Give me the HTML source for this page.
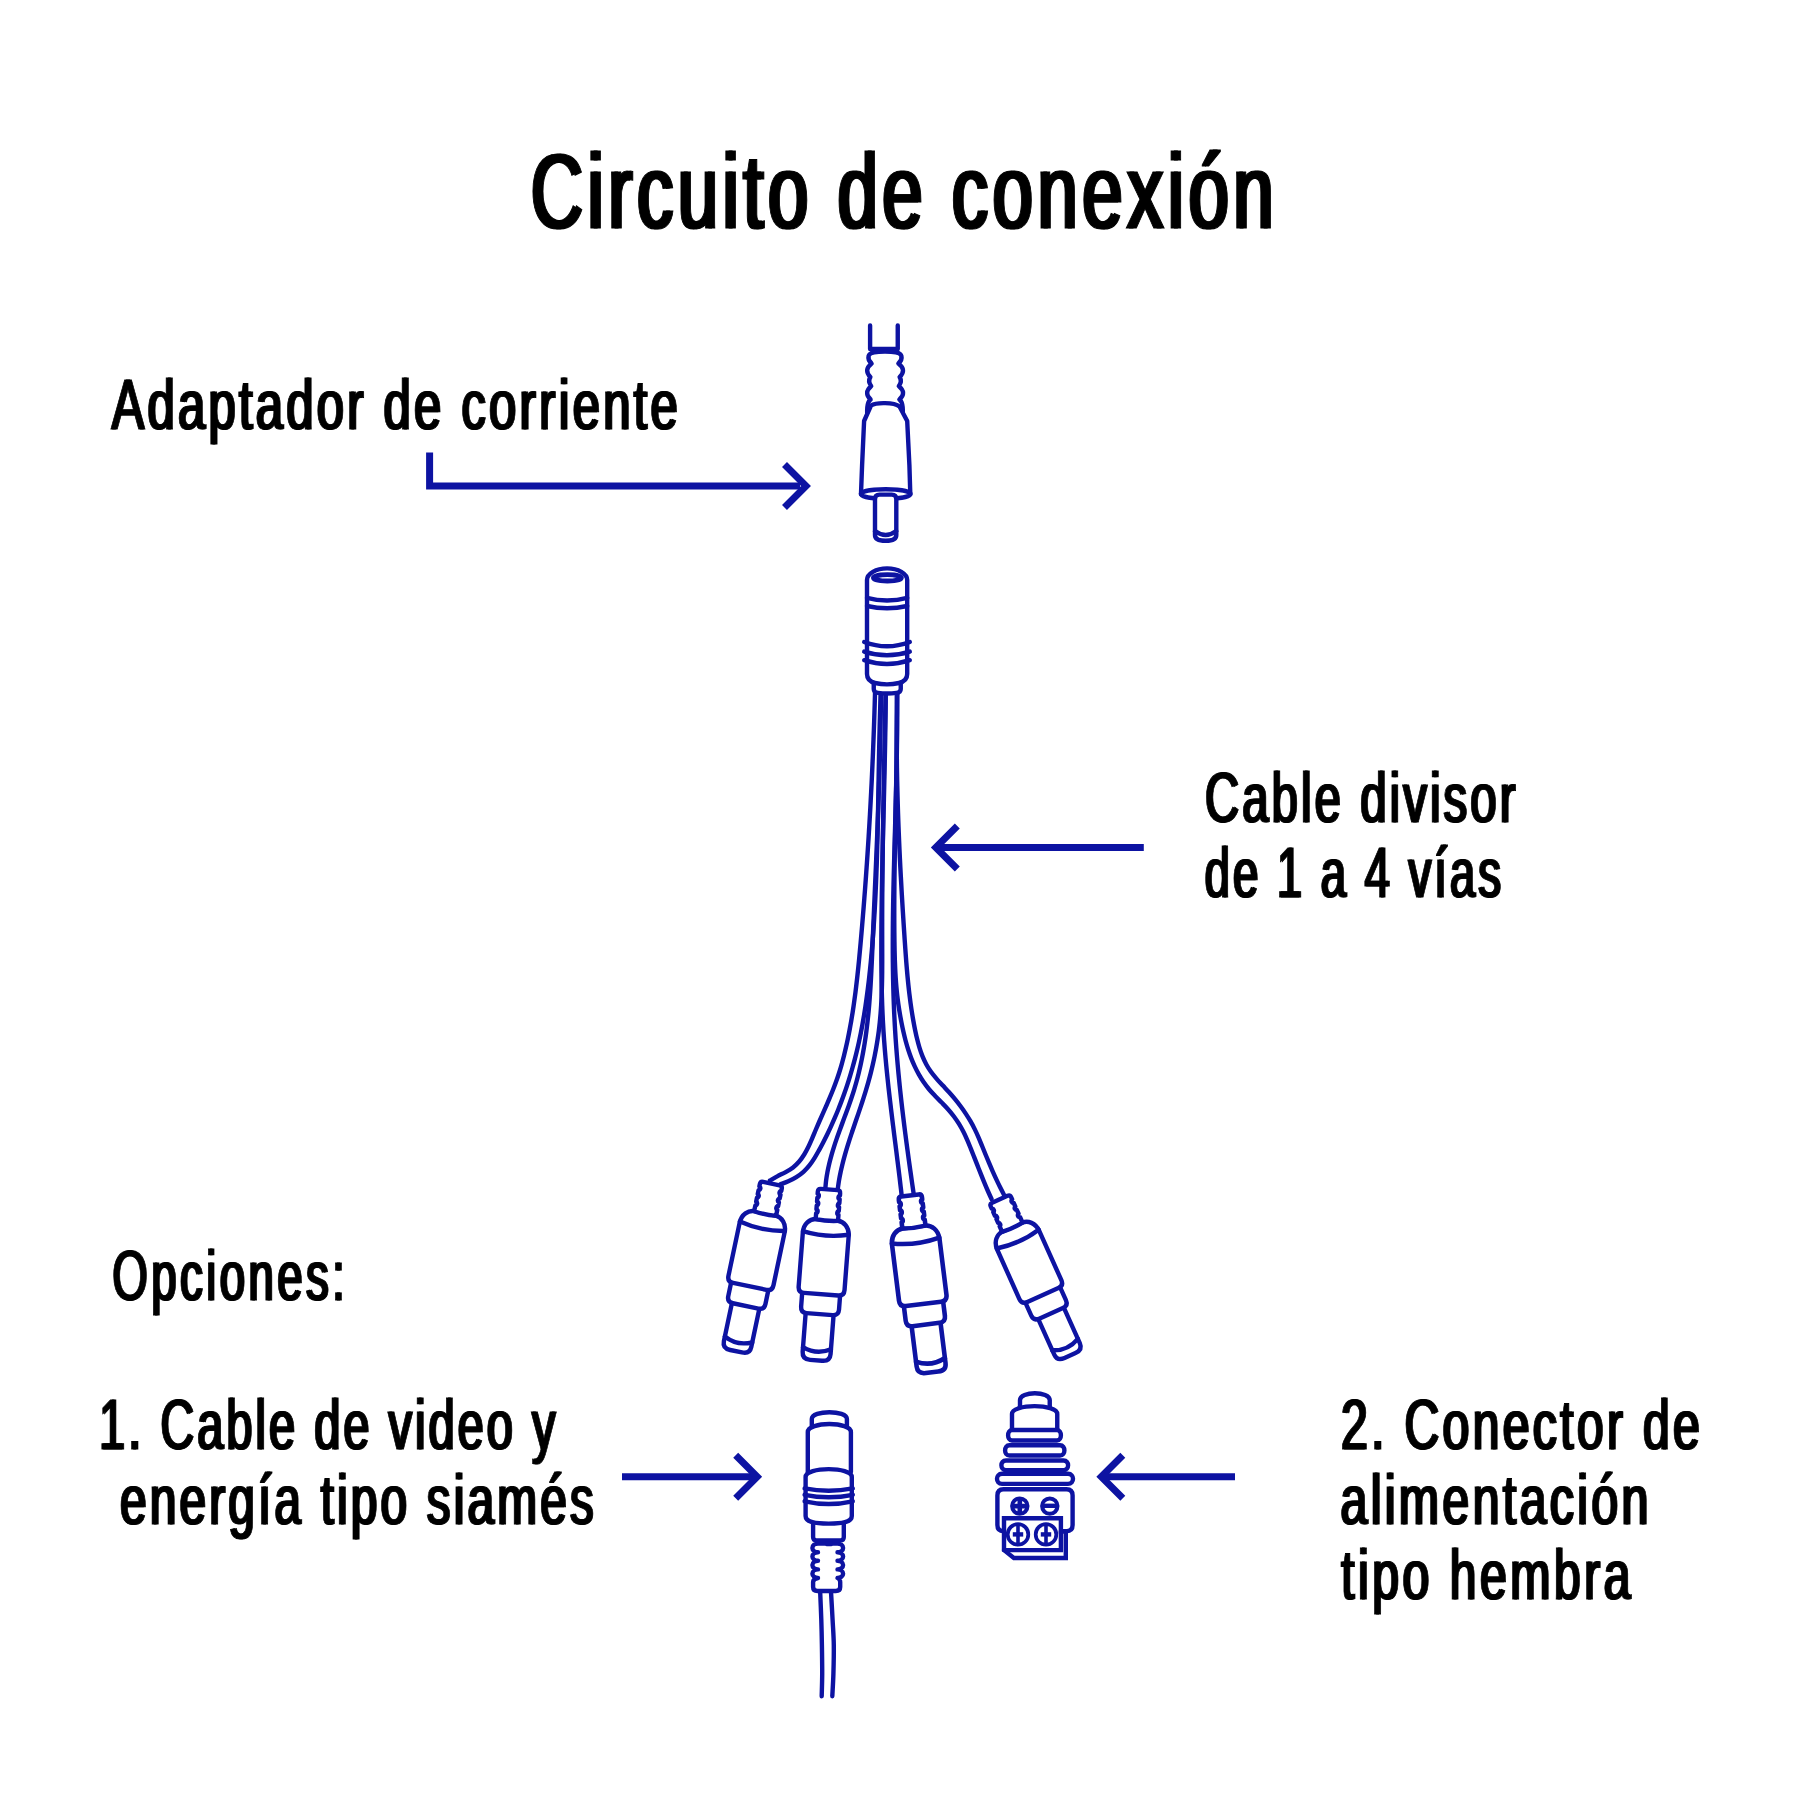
<!DOCTYPE html><html><head><meta charset="utf-8"><style>html,body{margin:0;padding:0;background:#fff;}svg{display:block;}</style></head><body><svg width="1800" height="1800" viewBox="0 0 1800 1800"><rect width="1800" height="1800" fill="#fff"/><g font-family="Liberation Sans, sans-serif" fill="#000" stroke="#000"><g transform="translate(529.27,228) scale(0.6813,1)" font-size="106" stroke-width="1.2" letter-spacing="6.83"><text>Circuito de conexión</text><text x="4.7">Circuito de conexión</text></g><g transform="translate(110.69,429.4) scale(0.6900,1)" font-size="71" stroke-width="0.9" letter-spacing="4.68"><text>Adaptador de corriente</text><text x="2.75">Adaptador de corriente</text></g><g transform="translate(1204,822) scale(0.6667,1)" font-size="71" stroke-width="0.9" letter-spacing="4.62"><text>Cable divisor</text><text x="2.85">Cable divisor</text></g><g transform="translate(1203.72,897) scale(0.6421,1)" font-size="71" stroke-width="0.9" letter-spacing="4.58"><text>de 1 a 4 vías</text><text x="2.96">de 1 a 4 vías</text></g><g transform="translate(111.42,1300) scale(0.6417,1)" font-size="71" stroke-width="0.9" letter-spacing="5.32"><text>Opciones:</text><text x="2.96">Opciones:</text></g><g transform="translate(98.15,1448.8) scale(0.6613,1)" font-size="71" stroke-width="0.9" letter-spacing="4.58"><text>1. Cable de video y</text><text x="2.87">1. Cable de video y</text></g><g transform="translate(119.05,1523.75) scale(0.6735,1)" font-size="71" stroke-width="0.9" letter-spacing="4.67"><text>energía tipo siamés</text><text x="2.82">energía tipo siamés</text></g><g transform="translate(1340.06,1448.8) scale(0.6790,1)" font-size="71" stroke-width="0.9" letter-spacing="4.83"><text>2. Conector de</text><text x="2.8">2. Conector de</text></g><g transform="translate(1339.54,1523.5) scale(0.6812,1)" font-size="71" stroke-width="0.9" letter-spacing="4.87"><text>alimentación</text><text x="2.79">alimentación</text></g><g transform="translate(1340.2,1599) scale(0.6789,1)" font-size="71" stroke-width="0.9" letter-spacing="5.13"><text>tipo hembra</text><text x="2.8">tipo hembra</text></g></g><path d="M429.6,452.5 V486 H800" stroke="#0d13a2" stroke-width="7" fill="none" stroke-linejoin="miter"/><path d="M784.5,464.5 L806,486 L784.5,507.5" stroke="#0d13a2" stroke-width="7" fill="none" stroke-linejoin="miter" stroke-miterlimit="10"/><path d="M937.8,847.5 H1143.8" stroke="#0d13a2" stroke-width="7" fill="none"/><path d="M957.3,826 L935.8,847.5 L957.3,869" stroke="#0d13a2" stroke-width="7" fill="none" stroke-linejoin="miter" stroke-miterlimit="10"/><path d="M622,1476.7 H755.2" stroke="#0d13a2" stroke-width="7" fill="none"/><path d="M735.7,1455.2 L757.2,1476.7 L735.7,1498.2" stroke="#0d13a2" stroke-width="7" fill="none" stroke-linejoin="miter" stroke-miterlimit="10"/><path d="M1103.3,1476.8 H1235" stroke="#0d13a2" stroke-width="7" fill="none"/><path d="M1122.8,1455.3 L1101.3,1476.8 L1122.8,1498.3" stroke="#0d13a2" stroke-width="7" fill="none" stroke-linejoin="miter" stroke-miterlimit="10"/><g fill="none" stroke="#0d13a2" stroke-width="4.4" stroke-linecap="round" stroke-linejoin="round"><path d="M870.1,325.5 V349 H897.75 V325.5"/><path d="M867.4,417 Q866.2,402 870.6,399.5 Q863.4,393 871.2,386 Q867.6,381.5 870.4,377 Q863.4,370 871.6,363.5 Q867.6,360 868.6,356 C869.5,352.3 876,351.6 885,351.6 C894,351.6 900.5,352.3 901.4,356 Q902.4,360 898.4,363.5 Q907,370 899.6,377 Q902.4,381.5 898.8,386 Q907,393 899.4,399.5 Q903.8,402 902.6,417" fill="#fff"/><path d="M871,405.5 C876,402.2 894,402.2 899.5,406.5 L907.2,421 L909.4,465 L910.3,494 L861,494 L862.1,465 L864.1,421 Z" fill="#fff"/><ellipse cx="885.7" cy="494" rx="24.8" ry="4.7" fill="#fff"/><path d="M875,535 L875,499 Q875,494.6 879.5,494.6 L891.8,494.6 Q896.3,494.6 896.3,499 L896.3,535 Q896.3,540.8 885.65,540.8 Q875,540.8 875,535 Z" fill="#fff"/><path d="M875,531 Q885.65,539 896.3,531"/><path d="M875.21,686 C875.17,687.47 875.06,691.9 874.98,694.85 C874.89,697.79 874.81,700.74 874.72,703.69 C874.63,706.64 874.54,709.59 874.45,712.54 C874.35,715.49 874.26,718.43 874.16,721.38 C874.06,724.33 873.95,727.28 873.85,730.23 C873.74,733.18 873.63,736.12 873.52,739.07 C873.41,742.02 873.29,744.97 873.17,747.92 C873.05,750.87 872.93,753.81 872.81,756.76 C872.68,759.71 872.55,762.66 872.42,765.61 C872.29,768.56 872.16,771.5 872.02,774.45 C871.88,777.4 871.74,780.35 871.6,783.29 C871.45,786.24 871.3,789.19 871.15,792.14 C871,795.08 870.85,798.03 870.69,800.98 C870.54,803.92 870.38,806.87 870.21,809.82 C870.05,812.77 869.88,815.71 869.71,818.66 C869.55,821.6 869.37,824.55 869.2,827.5 C869.02,830.44 868.84,833.39 868.66,836.33 C868.48,839.28 868.29,842.23 868.1,845.17 C867.91,848.12 867.72,851.06 867.53,854.01 C867.33,856.95 867.13,859.89 866.93,862.84 C866.73,865.78 866.52,868.73 866.31,871.67 C866.11,874.61 865.89,877.56 865.68,880.5 C865.46,883.44 865.25,886.39 865.03,889.33 C864.8,892.27 864.58,895.21 864.35,898.16 C864.12,901.1 863.89,904.04 863.66,906.98 C863.42,909.92 863.18,912.86 862.94,915.8 C862.7,918.74 862.46,921.68 862.21,924.62 C861.96,927.56 861.71,930.5 861.45,933.44 C861.2,936.38 860.94,939.32 860.68,942.26 C860.42,945.2 860.15,948.14 859.88,951.07 C859.61,954.01 859.33,956.95 859.05,959.88 C858.76,962.82 858.47,965.75 858.16,968.68 C857.86,971.62 857.55,974.55 857.22,977.48 C856.89,980.41 856.56,983.34 856.2,986.27 C855.85,989.19 855.49,992.12 855.1,995.04 C854.72,997.96 854.32,1000.88 853.9,1003.8 C853.48,1006.72 853.04,1009.64 852.59,1012.55 C852.13,1015.46 851.65,1018.37 851.15,1021.28 C850.65,1024.19 850.13,1027.09 849.58,1029.99 C849.03,1032.89 848.46,1035.79 847.85,1038.68 C847.25,1041.58 846.63,1044.47 845.97,1047.35 C845.31,1050.24 844.62,1053.12 843.9,1055.98 C843.17,1058.84 842.41,1061.7 841.6,1064.53 C840.79,1067.37 839.95,1070.19 839.06,1072.99 C838.16,1075.79 837.22,1078.58 836.23,1081.33 C835.24,1084.09 834.19,1086.82 833.12,1089.54 C832.04,1092.27 830.92,1094.96 829.78,1097.67 C828.64,1100.37 827.46,1103.05 826.28,1105.75 C825.1,1108.45 823.9,1111.14 822.7,1113.84 C821.5,1116.55 820.29,1119.26 819.1,1121.99 C817.91,1124.73 816.73,1127.48 815.56,1130.25 C814.39,1133.02 813.27,1135.85 812.07,1138.61 C810.88,1141.36 809.7,1144.15 808.39,1146.8 C807.08,1149.46 805.74,1152.09 804.21,1154.54 C802.68,1156.99 801.06,1159.36 799.2,1161.51 C797.35,1163.65 795.33,1165.65 793.07,1167.41 C790.81,1169.17 788.22,1170.63 785.65,1172.08 C783.08,1173.54 780.24,1174.74 777.63,1176.14 C775.02,1177.54 771.26,1179.76 769.99,1180.49"/><path d="M881.02,686 C880.96,687.49 880.78,691.94 880.67,694.91 C880.56,697.89 880.45,700.86 880.35,703.83 C880.25,706.8 880.15,709.78 880.06,712.75 C879.97,715.72 879.89,718.7 879.8,721.67 C879.72,724.64 879.65,727.62 879.57,730.59 C879.5,733.57 879.43,736.54 879.36,739.51 C879.29,742.49 879.23,745.46 879.17,748.44 C879.11,751.41 879.05,754.39 878.99,757.37 C878.94,760.34 878.88,763.32 878.83,766.29 C878.77,769.27 878.72,772.24 878.67,775.22 C878.62,778.2 878.57,781.17 878.51,784.15 C878.46,787.12 878.41,790.1 878.36,793.08 C878.31,796.05 878.26,799.03 878.2,802 C878.15,804.98 878.1,807.96 878.04,810.93 C877.98,813.91 877.93,816.88 877.87,819.86 C877.8,822.83 877.74,825.81 877.68,828.78 C877.61,831.76 877.54,834.73 877.47,837.71 C877.4,840.68 877.32,843.66 877.24,846.63 C877.16,849.61 877.08,852.58 876.99,855.56 C876.9,858.53 876.81,861.5 876.71,864.48 C876.61,867.45 876.51,870.42 876.4,873.4 C876.29,876.37 876.18,879.34 876.05,882.31 C875.93,885.28 875.8,888.25 875.67,891.23 C875.53,894.2 875.39,897.17 875.24,900.14 C875.09,903.11 874.93,906.08 874.76,909.05 C874.6,912.01 874.42,914.98 874.24,917.95 C874.06,920.92 873.86,923.89 873.66,926.85 C873.46,929.82 873.25,932.79 873.03,935.75 C872.8,938.72 872.57,941.68 872.33,944.65 C872.09,947.61 871.83,950.57 871.57,953.54 C871.3,956.5 871.03,959.46 870.74,962.42 C870.45,965.39 870.15,968.35 869.84,971.31 C869.53,974.27 869.21,977.22 868.87,980.18 C868.53,983.14 868.17,986.1 867.8,989.05 C867.43,992 867.05,994.95 866.64,997.9 C866.23,1000.85 865.81,1003.8 865.37,1006.74 C864.92,1009.68 864.46,1012.62 863.98,1015.55 C863.49,1018.49 862.98,1021.42 862.45,1024.34 C861.92,1027.27 861.37,1030.19 860.79,1033.1 C860.2,1036.02 859.6,1038.93 858.97,1041.83 C858.33,1044.73 857.67,1047.63 856.98,1050.52 C856.29,1053.41 855.57,1056.29 854.82,1059.17 C854.07,1062.04 853.29,1064.91 852.48,1067.77 C851.67,1070.63 850.83,1073.48 849.96,1076.32 C849.09,1079.16 848.2,1082 847.27,1084.82 C846.34,1087.64 845.38,1090.46 844.39,1093.26 C843.39,1096.06 842.37,1098.86 841.32,1101.64 C840.27,1104.42 839.18,1107.19 838.07,1109.95 C836.95,1112.71 835.81,1115.45 834.63,1118.19 C833.45,1120.92 832.24,1123.64 831,1126.35 C829.76,1129.06 828.49,1131.75 827.18,1134.43 C825.88,1137.11 824.54,1139.78 823.17,1142.43 C821.8,1145.08 820.41,1147.73 818.96,1150.34 C817.51,1152.95 816.07,1155.58 814.48,1158.09 C812.89,1160.59 811.27,1163.07 809.43,1165.36 C807.6,1167.64 805.65,1169.84 803.47,1171.8 C801.28,1173.76 798.85,1175.53 796.33,1177.11 C793.81,1178.7 791.05,1180.08 788.33,1181.31 C785.61,1182.54 781.39,1183.96 780,1184.49"/><path d="M880.99,686 C880.99,687.44 880.97,691.77 880.95,694.65 C880.93,697.54 880.91,700.42 880.88,703.3 C880.85,706.19 880.82,709.07 880.78,711.95 C880.74,714.83 880.7,717.71 880.66,720.59 C880.61,723.47 880.56,726.35 880.51,729.23 C880.46,732.11 880.4,734.98 880.34,737.86 C880.28,740.74 880.21,743.62 880.15,746.49 C880.08,749.37 880.01,752.24 879.93,755.12 C879.86,758 879.78,760.87 879.7,763.75 C879.62,766.62 879.54,769.49 879.45,772.37 C879.37,775.24 879.28,778.12 879.19,780.99 C879.09,783.86 879,786.74 878.9,789.61 C878.81,792.48 878.71,795.35 878.61,798.23 C878.51,801.1 878.4,803.97 878.3,806.84 C878.19,809.72 878.09,812.59 877.98,815.46 C877.87,818.33 877.76,821.2 877.65,824.07 C877.53,826.95 877.42,829.82 877.3,832.69 C877.19,835.56 877.07,838.43 876.95,841.3 C876.84,844.18 876.72,847.05 876.6,849.92 C876.48,852.79 876.35,855.66 876.23,858.54 C876.11,861.41 875.99,864.28 875.86,867.15 C875.74,870.03 875.62,872.9 875.49,875.77 C875.37,878.65 875.24,881.52 875.12,884.39 C874.99,887.27 874.87,890.14 874.74,893.02 C874.62,895.89 874.49,898.76 874.37,901.64 C874.24,904.51 874.12,907.39 873.99,910.27 C873.87,913.14 873.74,916.02 873.62,918.9 C873.5,921.77 873.37,924.65 873.25,927.53 C873.13,930.41 873.01,933.29 872.89,936.17 C872.77,939.05 872.65,941.93 872.53,944.81 C872.41,947.69 872.29,950.57 872.17,953.45 C872.05,956.33 871.92,959.21 871.79,962.09 C871.66,964.97 871.53,967.85 871.38,970.73 C871.24,973.61 871.09,976.49 870.93,979.37 C870.77,982.24 870.6,985.12 870.41,987.99 C870.23,990.87 870.04,993.74 869.82,996.61 C869.61,999.48 869.39,1002.35 869.14,1005.21 C868.9,1008.08 868.64,1010.94 868.36,1013.8 C868.08,1016.66 867.78,1019.52 867.45,1022.38 C867.13,1025.23 866.79,1028.08 866.42,1030.93 C866.05,1033.77 865.65,1036.62 865.23,1039.46 C864.81,1042.29 864.36,1045.13 863.88,1047.95 C863.4,1050.78 862.89,1053.6 862.34,1056.42 C861.8,1059.23 861.23,1062.04 860.62,1064.84 C860,1067.64 859.36,1070.43 858.67,1073.22 C857.99,1076 857.27,1078.77 856.51,1081.54 C855.74,1084.3 854.94,1087.06 854.09,1089.8 C853.25,1092.54 852.35,1095.28 851.44,1098 C850.52,1100.73 849.56,1103.44 848.59,1106.16 C847.62,1108.87 846.62,1111.57 845.63,1114.28 C844.63,1116.98 843.61,1119.69 842.61,1122.39 C841.61,1125.09 840.6,1127.8 839.62,1130.51 C838.64,1133.22 837.66,1135.93 836.72,1138.65 C835.78,1141.37 834.86,1144.09 833.99,1146.83 C833.12,1149.57 832.27,1152.31 831.49,1155.07 C830.71,1157.83 829.96,1160.6 829.29,1163.39 C828.63,1166.18 828.01,1168.99 827.48,1171.81 C826.95,1174.63 826.49,1177.47 826.13,1180.34 C825.76,1183.2 825.44,1187.56 825.3,1189"/><path d="M885.81,686 C885.77,687.44 885.68,691.77 885.62,694.65 C885.56,697.54 885.49,700.42 885.43,703.3 C885.37,706.19 885.31,709.07 885.24,711.95 C885.18,714.83 885.12,717.71 885.06,720.59 C884.99,723.46 884.93,726.34 884.87,729.22 C884.81,732.1 884.75,734.97 884.69,737.85 C884.62,740.72 884.56,743.6 884.5,746.47 C884.44,749.34 884.38,752.22 884.32,755.09 C884.27,757.96 884.21,760.84 884.15,763.71 C884.09,766.58 884.03,769.45 883.98,772.32 C883.92,775.19 883.86,778.06 883.81,780.93 C883.76,783.8 883.7,786.67 883.65,789.54 C883.59,792.41 883.54,795.28 883.49,798.15 C883.44,801.02 883.39,803.89 883.34,806.76 C883.29,809.63 883.24,812.49 883.2,815.36 C883.15,818.23 883.1,821.1 883.06,823.97 C883.01,826.84 882.97,829.71 882.93,832.58 C882.89,835.45 882.85,838.32 882.81,841.18 C882.77,844.05 882.73,846.92 882.7,849.79 C882.66,852.66 882.63,855.54 882.59,858.41 C882.56,861.28 882.53,864.15 882.5,867.02 C882.47,869.89 882.44,872.76 882.42,875.64 C882.39,878.51 882.37,881.38 882.35,884.26 C882.32,887.13 882.3,890.01 882.29,892.88 C882.27,895.76 882.25,898.63 882.24,901.51 C882.22,904.39 882.21,907.27 882.2,910.15 C882.19,913.02 882.19,915.9 882.18,918.78 C882.18,921.66 882.17,924.55 882.17,927.43 C882.17,930.31 882.17,933.2 882.18,936.08 C882.18,938.97 882.19,941.85 882.2,944.74 C882.2,947.63 882.22,950.51 882.22,953.4 C882.22,956.29 882.23,959.18 882.22,962.07 C882.21,964.95 882.2,967.84 882.18,970.73 C882.16,973.61 882.12,976.5 882.07,979.38 C882.02,982.26 881.96,985.15 881.88,988.03 C881.8,990.9 881.7,993.78 881.57,996.66 C881.45,999.53 881.31,1002.4 881.13,1005.27 C880.96,1008.13 880.77,1011 880.54,1013.86 C880.31,1016.72 880.05,1019.57 879.76,1022.42 C879.47,1025.27 879.15,1028.11 878.79,1030.95 C878.43,1033.79 878.03,1036.63 877.59,1039.45 C877.16,1042.28 876.69,1045.1 876.18,1047.92 C875.68,1050.74 875.14,1053.55 874.57,1056.35 C873.99,1059.16 873.38,1061.95 872.74,1064.74 C872.1,1067.54 871.43,1070.32 870.73,1073.1 C870.02,1075.88 869.28,1078.65 868.52,1081.42 C867.75,1084.18 866.95,1086.94 866.12,1089.7 C865.29,1092.45 864.43,1095.19 863.56,1097.93 C862.68,1100.67 861.77,1103.41 860.86,1106.14 C859.95,1108.87 859.02,1111.6 858.09,1114.33 C857.16,1117.06 856.21,1119.78 855.28,1122.51 C854.35,1125.24 853.41,1127.96 852.5,1130.69 C851.58,1133.42 850.67,1136.15 849.78,1138.89 C848.9,1141.63 848.03,1144.37 847.19,1147.11 C846.35,1149.86 845.54,1152.61 844.77,1155.37 C843.99,1158.13 843.25,1160.9 842.56,1163.68 C841.87,1166.46 841.22,1169.24 840.63,1172.04 C840.03,1174.84 839.49,1177.65 839.01,1180.48 C838.53,1183.3 837.97,1187.57 837.76,1188.99"/><path d="M885.79,686 C885.78,687.44 885.76,691.76 885.74,694.64 C885.73,697.52 885.7,700.39 885.68,703.27 C885.65,706.15 885.62,709.03 885.59,711.91 C885.56,714.79 885.52,717.67 885.48,720.55 C885.44,723.43 885.4,726.31 885.36,729.19 C885.31,732.07 885.27,734.95 885.22,737.83 C885.17,740.72 885.12,743.6 885.06,746.48 C885.01,749.36 884.95,752.24 884.89,755.12 C884.84,758 884.78,760.88 884.71,763.77 C884.65,766.65 884.59,769.53 884.53,772.41 C884.46,775.29 884.4,778.18 884.33,781.06 C884.26,783.94 884.19,786.82 884.13,789.71 C884.06,792.59 883.99,795.47 883.92,798.36 C883.85,801.24 883.78,804.12 883.71,807 C883.64,809.89 883.57,812.77 883.5,815.65 C883.43,818.54 883.36,821.42 883.29,824.3 C883.22,827.19 883.15,830.07 883.08,832.95 C883.01,835.84 882.94,838.72 882.87,841.6 C882.81,844.49 882.74,847.37 882.68,850.25 C882.61,853.14 882.55,856.02 882.48,858.9 C882.42,861.79 882.36,864.67 882.3,867.56 C882.24,870.44 882.18,873.32 882.13,876.21 C882.07,879.09 882.02,881.97 881.97,884.86 C881.92,887.74 881.87,890.62 881.82,893.51 C881.78,896.39 881.73,899.27 881.69,902.16 C881.65,905.04 881.61,907.92 881.58,910.81 C881.54,913.69 881.51,916.57 881.48,919.46 C881.45,922.34 881.43,925.22 881.41,928.11 C881.39,930.99 881.37,933.87 881.36,936.76 C881.34,939.64 881.33,942.52 881.33,945.4 C881.32,948.29 881.32,951.17 881.33,954.05 C881.33,956.93 881.34,959.81 881.36,962.7 C881.38,965.58 881.4,968.46 881.43,971.34 C881.47,974.22 881.5,977.1 881.55,979.98 C881.6,982.86 881.66,985.74 881.72,988.62 C881.79,991.5 881.86,994.38 881.95,997.26 C882.03,1000.14 882.13,1003.01 882.23,1005.89 C882.34,1008.77 882.46,1011.64 882.59,1014.52 C882.72,1017.39 882.86,1020.27 883.02,1023.14 C883.18,1026.02 883.34,1028.89 883.53,1031.76 C883.71,1034.64 883.91,1037.51 884.12,1040.38 C884.33,1043.25 884.55,1046.12 884.78,1048.99 C885.02,1051.86 885.26,1054.73 885.52,1057.59 C885.78,1060.46 886.04,1063.33 886.32,1066.2 C886.6,1069.06 886.88,1071.93 887.18,1074.79 C887.47,1077.66 887.77,1080.52 888.08,1083.39 C888.39,1086.25 888.71,1089.12 889.03,1091.98 C889.36,1094.85 889.69,1097.71 890.02,1100.57 C890.36,1103.43 890.7,1106.3 891.05,1109.16 C891.39,1112.02 891.74,1114.88 892.09,1117.74 C892.45,1120.61 892.8,1123.47 893.16,1126.33 C893.52,1129.19 893.88,1132.05 894.24,1134.91 C894.6,1137.77 894.96,1140.63 895.33,1143.5 C895.69,1146.36 896.05,1149.22 896.41,1152.08 C896.77,1154.94 897.13,1157.8 897.49,1160.66 C897.85,1163.52 898.21,1166.38 898.56,1169.24 C898.91,1172.1 899.26,1174.97 899.61,1177.83 C899.95,1180.69 900.29,1183.55 900.63,1186.41 C900.97,1189.27 901.46,1193.57 901.62,1195"/><path d="M896.78,686 C896.8,687.44 896.88,691.74 896.92,694.61 C896.96,697.48 897,700.35 897.02,703.21 C897.05,706.08 897.07,708.95 897.08,711.82 C897.09,714.7 897.09,717.57 897.09,720.44 C897.09,723.31 897.08,726.18 897.07,729.05 C897.06,731.92 897.04,734.8 897.01,737.67 C896.99,740.54 896.96,743.41 896.93,746.29 C896.89,749.16 896.85,752.03 896.81,754.91 C896.76,757.78 896.72,760.65 896.66,763.53 C896.61,766.4 896.56,769.28 896.5,772.15 C896.44,775.03 896.38,777.9 896.31,780.78 C896.24,783.65 896.18,786.53 896.11,789.4 C896.04,792.28 895.96,795.15 895.89,798.03 C895.81,800.91 895.73,803.78 895.66,806.66 C895.58,809.53 895.5,812.41 895.42,815.29 C895.34,818.16 895.26,821.04 895.17,823.92 C895.09,826.79 895.01,829.67 894.93,832.54 C894.84,835.42 894.76,838.3 894.68,841.17 C894.6,844.05 894.51,846.93 894.43,849.8 C894.35,852.68 894.27,855.56 894.2,858.43 C894.12,861.31 894.04,864.19 893.97,867.06 C893.89,869.94 893.82,872.82 893.75,875.69 C893.68,878.57 893.61,881.45 893.55,884.32 C893.48,887.2 893.42,890.07 893.36,892.95 C893.3,895.83 893.25,898.7 893.19,901.58 C893.14,904.45 893.1,907.33 893.05,910.2 C893.01,913.08 892.97,915.95 892.94,918.83 C892.9,921.7 892.87,924.58 892.85,927.45 C892.83,930.33 892.81,933.2 892.8,936.08 C892.78,938.95 892.78,941.82 892.78,944.7 C892.78,947.57 892.78,950.44 892.79,953.32 C892.81,956.19 892.83,959.06 892.85,961.93 C892.88,964.81 892.91,967.68 892.95,970.55 C893,973.42 893.05,976.29 893.1,979.16 C893.16,982.03 893.23,984.9 893.3,987.77 C893.38,990.64 893.46,993.51 893.55,996.38 C893.65,999.25 893.75,1002.12 893.86,1004.99 C893.97,1007.86 894.09,1010.72 894.22,1013.59 C894.35,1016.46 894.49,1019.33 894.65,1022.19 C894.8,1025.06 894.96,1027.92 895.14,1030.79 C895.31,1033.66 895.49,1036.52 895.69,1039.38 C895.89,1042.25 896.09,1045.11 896.31,1047.98 C896.52,1050.84 896.75,1053.7 896.99,1056.56 C897.22,1059.43 897.47,1062.29 897.72,1065.15 C897.97,1068.01 898.24,1070.87 898.51,1073.73 C898.78,1076.59 899.06,1079.45 899.35,1082.31 C899.64,1085.17 899.94,1088.02 900.24,1090.88 C900.55,1093.74 900.86,1096.6 901.18,1099.45 C901.49,1102.31 901.82,1105.16 902.15,1108.02 C902.49,1110.88 902.83,1113.73 903.17,1116.58 C903.52,1119.44 903.87,1122.29 904.22,1125.14 C904.58,1128 904.94,1130.85 905.31,1133.7 C905.68,1136.55 906.05,1139.4 906.43,1142.26 C906.81,1145.11 907.19,1147.96 907.58,1150.81 C907.96,1153.65 908.35,1156.5 908.75,1159.35 C909.14,1162.2 909.54,1165.05 909.94,1167.89 C910.34,1170.74 910.75,1173.59 911.15,1176.43 C911.56,1179.28 911.97,1182.12 912.38,1184.97 C912.79,1187.81 913.41,1192.08 913.62,1193.5"/><path d="M896.99,686 C897,687.52 897.04,692.07 897.05,695.11 C897.06,698.15 897.07,701.18 897.07,704.22 C897.07,707.26 897.07,710.3 897.06,713.33 C897.05,716.37 897.03,719.41 897.01,722.45 C897,725.49 896.97,728.53 896.94,731.57 C896.92,734.6 896.89,737.64 896.85,740.68 C896.82,743.72 896.78,746.76 896.74,749.8 C896.69,752.84 896.65,755.88 896.6,758.92 C896.55,761.96 896.5,765 896.45,768.04 C896.4,771.08 896.34,774.13 896.29,777.17 C896.23,780.21 896.17,783.25 896.12,786.29 C896.06,789.33 896,792.37 895.94,795.41 C895.88,798.45 895.81,801.49 895.75,804.54 C895.69,807.58 895.63,810.62 895.57,813.66 C895.51,816.7 895.44,819.74 895.38,822.78 C895.32,825.82 895.26,828.87 895.2,831.91 C895.15,834.95 895.09,837.99 895.03,841.03 C894.98,844.07 894.92,847.11 894.87,850.15 C894.82,853.19 894.77,856.23 894.72,859.27 C894.68,862.32 894.63,865.36 894.59,868.4 C894.55,871.44 894.51,874.48 894.48,877.52 C894.44,880.56 894.41,883.6 894.39,886.64 C894.36,889.67 894.34,892.71 894.32,895.75 C894.3,898.79 894.29,901.83 894.28,904.87 C894.27,907.91 894.27,910.95 894.27,913.98 C894.27,917.02 894.28,920.06 894.29,923.1 C894.31,926.13 894.33,929.17 894.35,932.21 C894.38,935.24 894.41,938.28 894.45,941.32 C894.49,944.35 894.54,947.39 894.6,950.42 C894.66,953.46 894.74,956.49 894.83,959.52 C894.93,962.55 895.04,965.58 895.18,968.61 C895.32,971.64 895.48,974.67 895.68,977.7 C895.88,980.72 896.1,983.74 896.36,986.76 C896.63,989.78 896.93,992.8 897.27,995.82 C897.62,998.83 898,1001.84 898.44,1004.85 C898.87,1007.86 899.36,1010.86 899.88,1013.86 C900.39,1016.87 900.95,1019.87 901.54,1022.86 C902.13,1025.86 902.74,1028.86 903.42,1031.84 C904.1,1034.82 904.82,1037.8 905.61,1040.74 C906.4,1043.69 907.25,1046.62 908.18,1049.51 C909.12,1052.4 910.11,1055.27 911.2,1058.08 C912.29,1060.9 913.46,1063.68 914.73,1066.4 C916,1069.12 917.36,1071.8 918.83,1074.41 C920.31,1077.01 921.88,1079.57 923.57,1082.04 C925.27,1084.51 927.09,1086.92 929.02,1089.24 C930.95,1091.57 933.06,1093.78 935.16,1096 C937.27,1098.21 939.51,1100.34 941.65,1102.54 C943.79,1104.73 945.98,1106.9 948,1109.18 C950.02,1111.45 951.96,1113.79 953.77,1116.2 C955.58,1118.62 957.27,1121.12 958.86,1123.68 C960.44,1126.25 961.91,1128.89 963.29,1131.59 C964.68,1134.28 965.93,1137.05 967.17,1139.84 C968.4,1142.63 969.55,1145.47 970.7,1148.3 C971.85,1151.14 972.97,1153.99 974.09,1156.84 C975.21,1159.69 976.32,1162.54 977.44,1165.39 C978.56,1168.23 979.67,1171.07 980.8,1173.91 C981.93,1176.74 983.06,1179.56 984.23,1182.37 C985.39,1185.18 986.56,1187.97 987.78,1190.74 C988.99,1193.52 990.88,1197.62 991.5,1199"/><path d="M897.41,686 C897.37,687.51 897.25,692.05 897.18,695.08 C897.12,698.1 897.06,701.13 897,704.15 C896.95,707.18 896.91,710.2 896.87,713.23 C896.83,716.25 896.8,719.28 896.78,722.3 C896.75,725.33 896.74,728.35 896.73,731.38 C896.72,734.4 896.72,737.42 896.72,740.45 C896.73,743.47 896.74,746.5 896.76,749.52 C896.78,752.54 896.8,755.57 896.83,758.59 C896.86,761.61 896.9,764.64 896.94,767.66 C896.99,770.68 897.04,773.71 897.09,776.73 C897.15,779.75 897.21,782.78 897.28,785.8 C897.35,788.82 897.42,791.84 897.5,794.87 C897.58,797.89 897.66,800.91 897.75,803.93 C897.84,806.95 897.93,809.98 898.03,813 C898.13,816.02 898.24,819.04 898.35,822.06 C898.46,825.08 898.57,828.11 898.69,831.13 C898.81,834.15 898.94,837.17 899.07,840.19 C899.2,843.21 899.33,846.23 899.47,849.25 C899.6,852.27 899.75,855.29 899.89,858.31 C900.04,861.33 900.19,864.35 900.34,867.37 C900.5,870.39 900.66,873.41 900.82,876.43 C900.98,879.45 901.15,882.47 901.32,885.49 C901.48,888.51 901.66,891.53 901.83,894.55 C902.01,897.57 902.19,900.58 902.37,903.6 C902.55,906.62 902.74,909.64 902.93,912.66 C903.12,915.68 903.31,918.69 903.5,921.71 C903.69,924.73 903.89,927.75 904.09,930.76 C904.29,933.78 904.49,936.8 904.69,939.82 C904.9,942.83 905.1,945.85 905.32,948.87 C905.53,951.88 905.75,954.9 905.97,957.91 C906.2,960.93 906.44,963.94 906.69,966.96 C906.94,969.97 907.2,972.98 907.48,975.99 C907.76,979 908.05,982.01 908.37,985.02 C908.69,988.02 909.02,991.03 909.39,994.03 C909.75,997.03 910.13,1000.03 910.54,1003.03 C910.96,1006.03 911.39,1009.03 911.87,1012.02 C912.34,1015.01 912.84,1018 913.38,1020.99 C913.91,1023.97 914.48,1026.96 915.09,1029.94 C915.71,1032.91 916.34,1035.9 917.07,1038.84 C917.79,1041.79 918.56,1044.73 919.46,1047.61 C920.35,1050.48 921.32,1053.33 922.45,1056.1 C923.57,1058.86 924.8,1061.58 926.22,1064.19 C927.65,1066.81 929.23,1069.33 930.97,1071.77 C932.71,1074.21 934.69,1076.52 936.67,1078.82 C938.65,1081.12 940.8,1083.33 942.87,1085.58 C944.94,1087.83 947.07,1090.04 949.1,1092.31 C951.12,1094.58 953.11,1096.87 955.02,1099.19 C956.93,1101.52 958.79,1103.88 960.57,1106.28 C962.36,1108.69 964.08,1111.12 965.73,1113.61 C967.37,1116.1 968.95,1118.62 970.45,1121.21 C971.94,1123.79 973.36,1126.43 974.7,1129.12 C976.04,1131.81 977.28,1134.57 978.49,1137.35 C979.71,1140.12 980.84,1142.96 982,1145.77 C983.16,1148.59 984.28,1151.43 985.44,1154.25 C986.6,1157.07 987.77,1159.89 988.95,1162.69 C990.14,1165.5 991.34,1168.29 992.57,1171.07 C993.8,1173.84 995.05,1176.6 996.33,1179.34 C997.61,1182.08 998.92,1184.8 1000.26,1187.5 C1001.61,1190.19 1003.71,1194.16 1004.4,1195.5"/><path d="M873.75,680 L873.75,689 Q873.75,692.6 878,692.9 Q887.2,694 896.5,692.9 Q900.75,692.6 900.75,689 L900.75,680" fill="#fff"/><path d="M867,580 A20.1 11.6 0 0 1 907.2,580 L907.2,674 Q907.2,681 899,683 Q887,685.8 875,683 Q867,681 867,674 Z" fill="#fff"/><ellipse cx="887.4" cy="577.8" rx="14" ry="3.2" stroke-width="4.8"/><path d="M867,597.8 Q887,603.2 907.2,597.8"/><path d="M867,606 Q887,610.6 907.2,606"/><path d="M864.2,642 Q887,650.6 909.8,642"/><path d="M864.2,651.6 Q887,659 909.8,651.6"/><path d="M864.2,660.2 Q887,667.8 909.8,660.2"/><defs><g id="plug"><path d="M-14,122 L-14,164 Q-14,171.3 -6,171.3 L6,171.3 Q14,171.3 14,164 L14,122" fill="#fff"/><path d="M-14,159.2 Q0,166.2 14,159.2"/><path d="M-19,102 L-19,119 Q-19,125 -13,125 L13,125 Q19,125 19,119 L19,102" fill="#fff"/><path d="M-11,30.5 C-17,30.8 -23,36 -23,45 L-23,99 Q-23,105 -17,105 L17,105 Q23,105 23,99 L23,45 C23,36 17,30.8 11,30.5 Z" fill="#fff"/><path d="M-23,43.6 Q0,48.8 23,43.6"/><path d="M-8.4,0 L8.4,0 Q11.2,0 11.2,3 L11.2,5.2 A2 2 0 0 0 11.2,9 L11.2,13 A2 2 0 0 0 11.2,16.8 L11.2,20.8 A2 2 0 0 0 11.2,24.6 L11.2,30.6 Q0,32 -11.2,30.6 L-11.2,24.6 A2 2 0 0 0 -11.2,20.8 L-11.2,16.8 A2 2 0 0 0 -11.2,13 L-11.2,9 A2 2 0 0 0 -11.2,5.2 L-11.2,3 Q-11.2,0 -8.4,0 Z" fill="#fff"/></g></defs><use href="#plug" transform="translate(771.4,1183.6) rotate(11.9) scale(1)"/><use href="#plug" transform="translate(829.2,1189.5) rotate(4.4) scale(1)"/><use href="#plug" transform="translate(910,1195.5) rotate(-7.1) scale(1.04)"/><use href="#plug" transform="translate(999.8,1199.3) rotate(-24.2) scale(1)"/><path d="M811.8,1426 L811.8,1419 C811.8,1410 846.9,1410 846.9,1419 L846.9,1426" fill="#fff"/><path d="M807.8,1472 L807.8,1432 C807.8,1421.4 850.9,1421.4 850.9,1432 L850.9,1472" fill="#fff"/><path d="M820.1,1590 C820.3,1595 821,1610.83 821.3,1620 C821.6,1629.17 821.75,1636.02 821.9,1645 C822.05,1653.98 822.23,1665.37 822.2,1673.9 C822.17,1682.43 821.78,1692.48 821.7,1696.2"/><path d="M830.9,1590 C831.18,1595 832.12,1610.83 832.6,1620 C833.08,1629.17 833.67,1636.02 833.8,1645 C833.93,1653.98 833.65,1665.37 833.4,1673.9 C833.15,1682.43 832.48,1692.48 832.3,1696.2"/><path d="M818,1543.6 A5.6 4.3 0 0 0 818,1552.2 A5.6 4.3 0 0 0 818,1560.8 A5.6 4.3 0 0 0 818,1569.4 A5.6 4.3 0 0 0 818,1578 Q813.1,1579 813.1,1582 L813.1,1587 Q813.1,1591 817.5,1591 L835.8,1591 Q840.2,1591 840.2,1587 L840.2,1582 Q840.2,1579 837.5,1578 A5.6 4.3 0 0 0 837.5,1569.4 A5.6 4.3 0 0 0 837.5,1560.8 A5.6 4.3 0 0 0 837.5,1552.2 A5.6 4.3 0 0 0 837.5,1543.6 Z" fill="#fff"/><path d="M813.1,1520 L813.1,1537 Q813.1,1540.4 816.5,1540.4 L840.4,1540.4 Q843.8,1540.4 843.8,1537 L843.8,1520" fill="#fff"/><rect x="825.3" y="1541.5" width="7.4" height="4.8" rx="1.5" fill="#0d13a2" stroke="none"/><path d="M805.6,1516 L805.6,1477 C805.6,1466.5 851.8,1466.5 851.8,1477 L851.8,1516 C851.8,1521.6 844,1523.6 828.7,1523.6 C813.4,1523.6 805.6,1521.6 805.6,1516 Z" fill="#fff"/><path d="M804.6,1488.4 Q828.7,1493.2 852.8,1488.4"/><path d="M804.6,1494.8 Q828.7,1499.8 852.8,1494.8"/><path d="M804.6,1501.3 Q828.7,1506.7 852.8,1501.3"/><path d="M1020,1408 L1020,1400 C1020,1391 1049.75,1391 1049.75,1400 L1049.75,1408" fill="#fff"/><path d="M1012,1431 L1012,1414 C1012,1403.5 1057.25,1403.5 1057.25,1414 L1057.25,1431" fill="#fff"/><path d="M1003.5,1489.2 L1066.5,1489.2 Q1072.6,1489.2 1072.6,1495.5 L1072.6,1525 Q1072.6,1531.2 1066.4,1531.2 L1003.6,1531.2 Q997.4,1531.2 997.4,1525 L997.4,1495.5 Q997.4,1489.2 1003.5,1489.2 Z" fill="#fff"/><path d="M1002,1473.8 L1068,1473.8 C1074.67,1473.8 1074.67,1483.9 1068,1483.9 L1002,1483.9 C995.33,1483.9 995.33,1473.8 1002,1473.8 Z" fill="#fff"/><path d="M1006,1460.5 L1063.5,1460.5 C1069.63,1460.5 1069.63,1470.2 1063.5,1470.2 L1006,1470.2 C999.87,1470.2 999.87,1460.5 1006,1460.5 Z" fill="#fff"/><path d="M1009.5,1445.3 L1060,1445.3 C1065.87,1445.3 1065.87,1455.5 1060,1455.5 L1009.5,1455.5 C1003.63,1455.5 1003.63,1445.3 1009.5,1445.3 Z" fill="#fff"/><path d="M1012,1430 L1057,1430 C1062.2,1430 1062.2,1440.5 1057,1440.5 L1012,1440.5 C1006.8,1440.5 1006.8,1430 1012,1430 Z" fill="#fff"/><circle cx="1019.8" cy="1506.1" r="7.7" stroke-width="4"/><path d="M1012.5,1506.1 H1027.1 M1019.8,1498.8 V1513.4" stroke-width="4.6" stroke-linecap="butt"/><circle cx="1049.8" cy="1506.1" r="7.7" stroke-width="4"/><path d="M1042.5,1505.8 H1057.1" stroke-width="4.4" stroke-linecap="butt"/><path d="M1004,1550.1 L1013.9,1558 L1065.8,1558 L1065.8,1531.5 L1060.9,1531.5 L1060.9,1518.3 L1004,1518.3 Z" fill="#fff" stroke-linejoin="miter"/><path d="M1004,1550.1 L1060.9,1550.1 L1060.9,1531" stroke-linejoin="miter"/><circle cx="1018" cy="1534.4" r="10.3" stroke-width="3.7"/><path d="M1018,1524.5 V1544.3" stroke-width="3.6" stroke-linecap="butt"/><path d="M1012.8,1534.4 H1023.2" stroke-width="4.4" stroke-linecap="butt"/><circle cx="1046" cy="1534.4" r="10.3" stroke-width="3.7"/><path d="M1046,1524.5 V1544.3" stroke-width="3.6" stroke-linecap="butt"/><path d="M1040.8,1534.4 H1051.2" stroke-width="4.4" stroke-linecap="butt"/></g></svg></body></html>
